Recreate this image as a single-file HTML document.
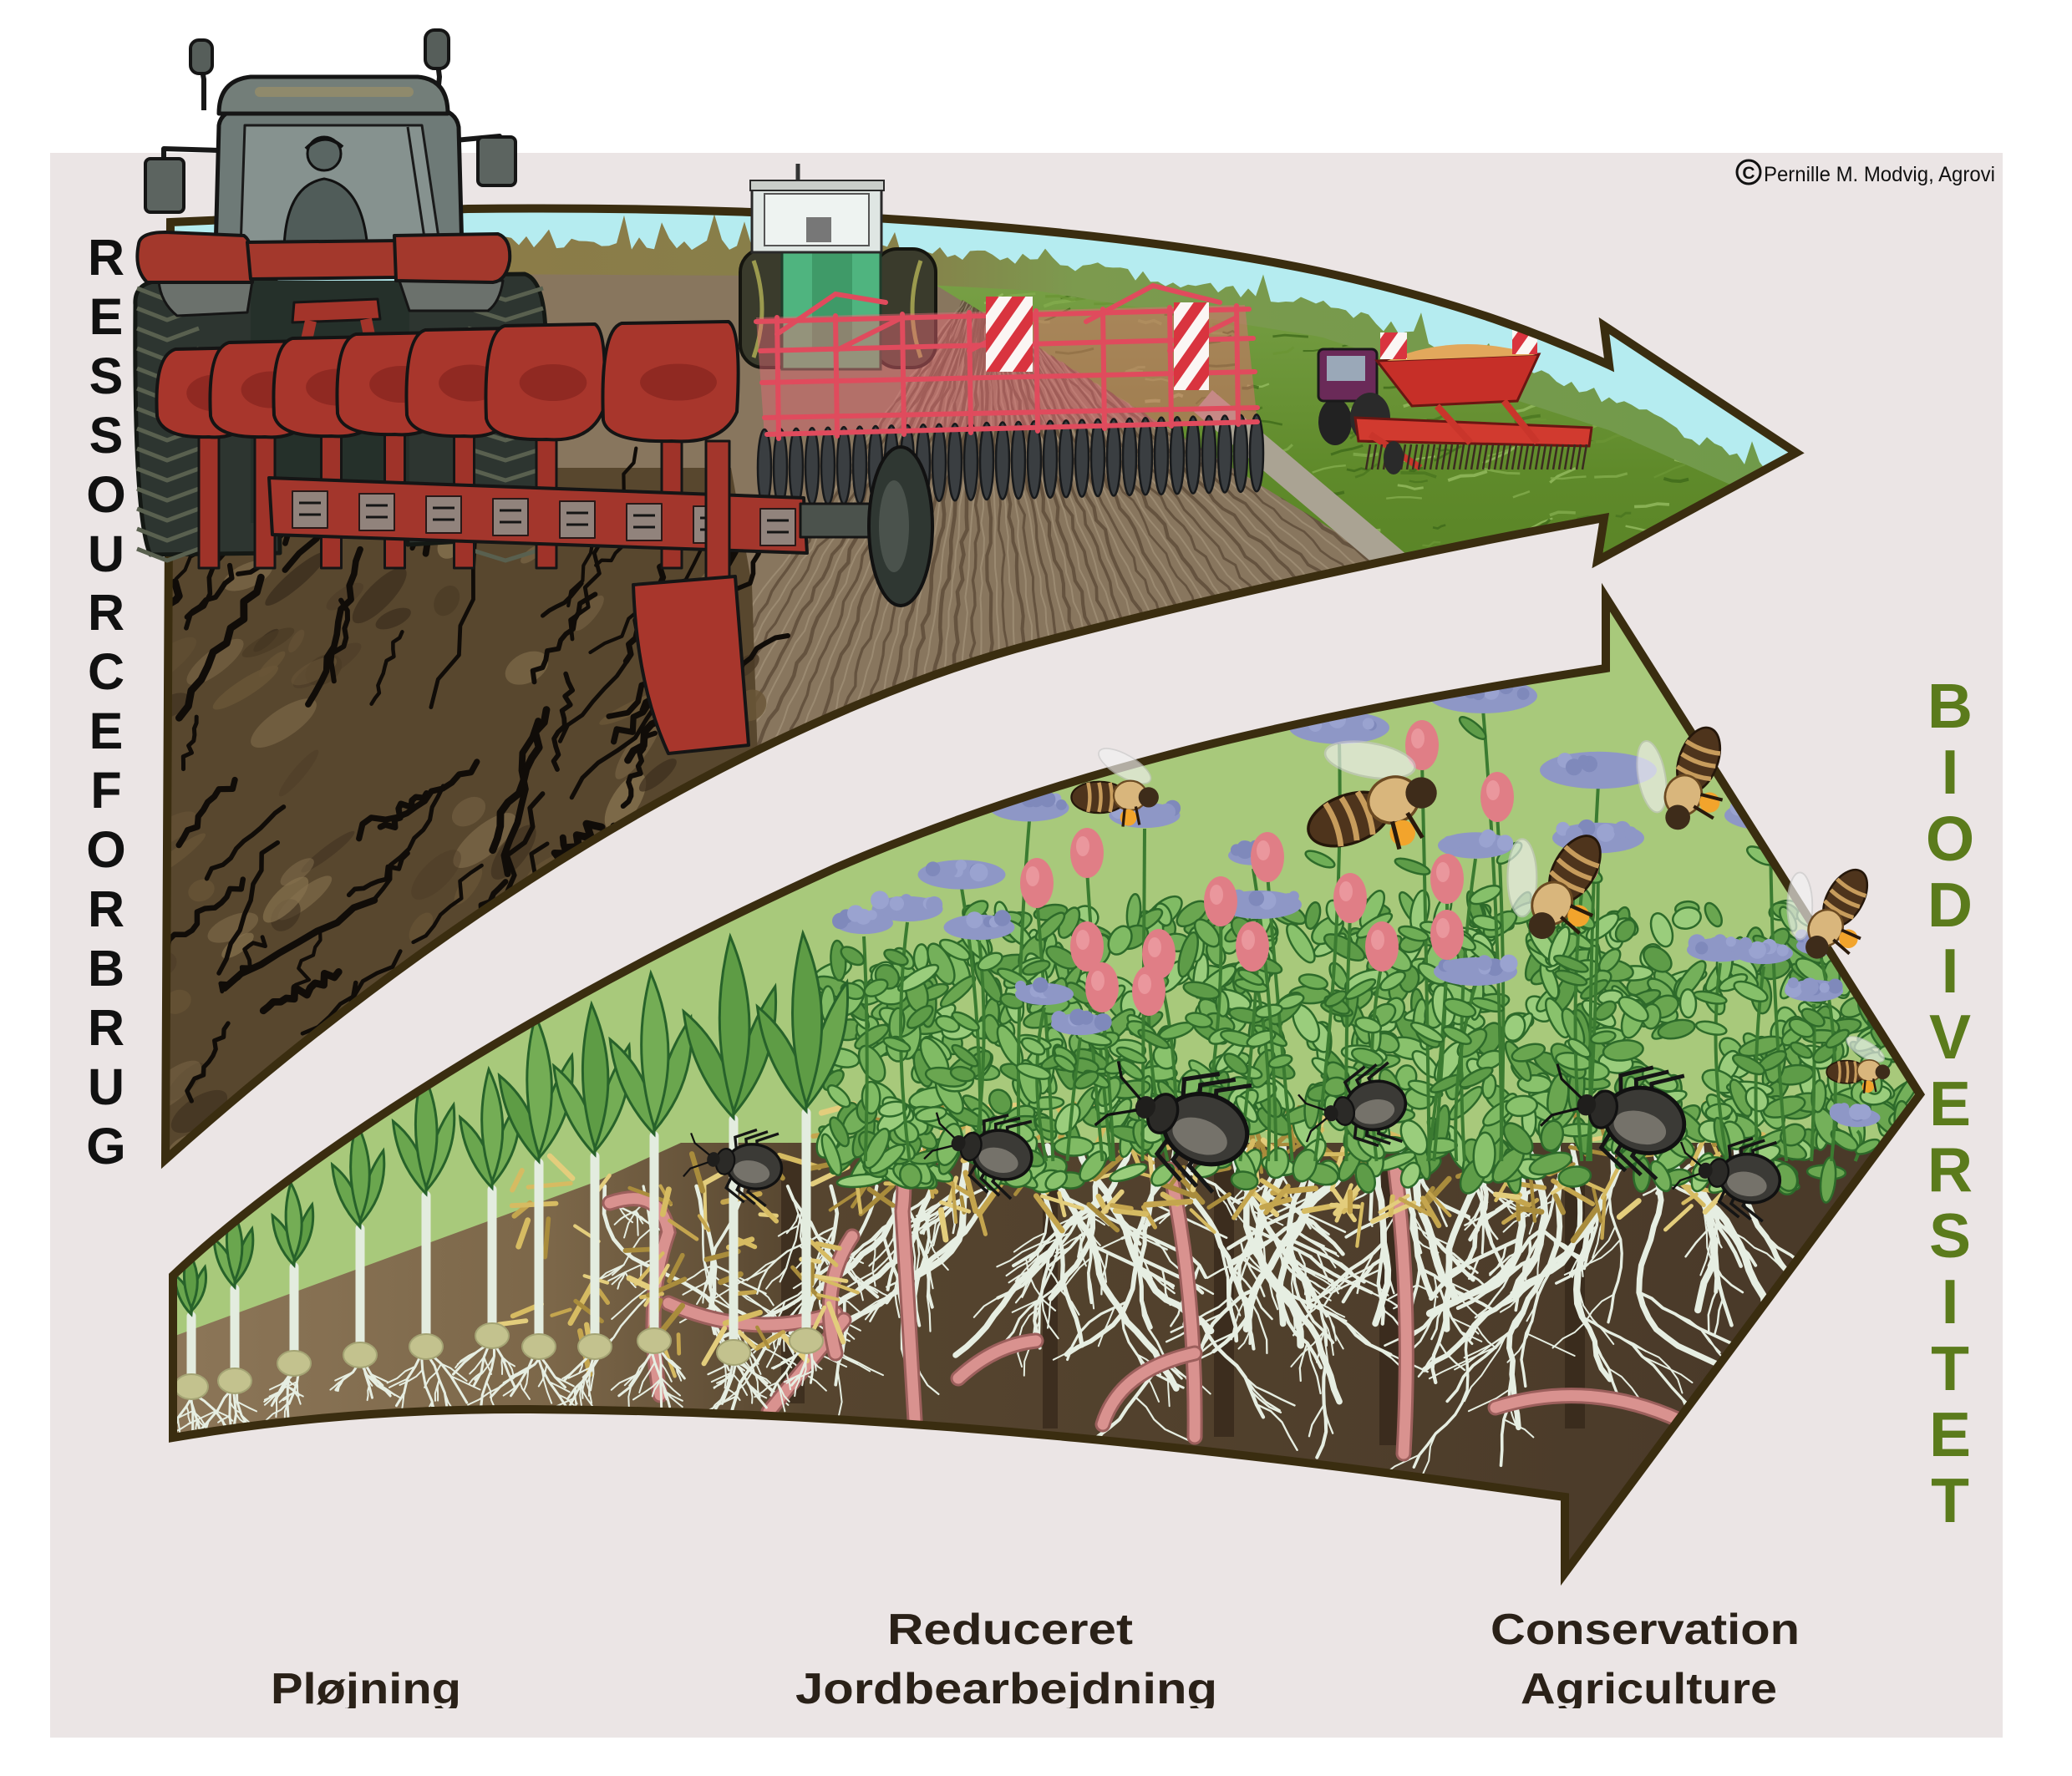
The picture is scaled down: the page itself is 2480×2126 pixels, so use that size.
<!DOCTYPE html>
<html><head><meta charset="utf-8"><title>Ressourceforbrug og Biodiversitet</title>
<style>html,body{margin:0;padding:0;background:#fff;width:2480px;height:2126px;overflow:hidden}svg{display:block}</style></head>
<body>
<svg id="s" xmlns="http://www.w3.org/2000/svg" width="2480" height="2126" viewBox="0 0 2480 2126">
<defs>
 <clipPath id="cTop"><path d="M204,266 L560,250 C900,246 1300,266 1580,325 C1750,362 1850,402 1926,437 L1920,390 L2150,542 L1912,671 L1920,620 C1700,660 1450,715 1240,770 C1000,833 620,1010 198,1388 Z"/></clipPath>
 <clipPath id="cBot"><path d="M207,1527 C330,1410 600,1220 1000,1039 C1300,910 1600,850 1922,800 L1922,715 L2298,1310 L1873,1883 L1873,1792 C1500,1740 1100,1690 633,1687 C450,1686 300,1705 207,1721 Z"/></clipPath>
 <clipPath id="cBF"><path d="M540,300 L1110,333 L1650,668 L1720,1100 L540,1100 Z"/></clipPath>
 <clipPath id="cLab"><rect x="0" y="1800" width="2480" height="245"/></clipPath>
 <linearGradient id="gGreen" x1="0" y1="330" x2="0" y2="800" gradientUnits="userSpaceOnUse"><stop offset="0" stop-color="#78a046"/><stop offset="0.5" stop-color="#5f8a2a"/><stop offset="1" stop-color="#557f24"/></linearGradient>
 <linearGradient id="gTree" x1="540" y1="0" x2="2200" y2="0" gradientUnits="userSpaceOnUse"><stop offset="0" stop-color="#8c7b48"/><stop offset="0.33" stop-color="#86804a"/><stop offset="0.45" stop-color="#7c9a4e"/><stop offset="1" stop-color="#6f9a4a"/></linearGradient>
 <linearGradient id="gSoil" x1="207" y1="0" x2="2100" y2="0" gradientUnits="userSpaceOnUse"><stop offset="0" stop-color="#8c7658"/><stop offset="0.24" stop-color="#7c6749"/><stop offset="0.4" stop-color="#56452f"/><stop offset="1" stop-color="#4a3a29"/></linearGradient>
 <pattern id="pStr" patternUnits="userSpaceOnUse" width="26" height="26" patternTransform="rotate(35)"><rect width="26" height="26" fill="#fbf6f4"/><rect width="13" height="26" fill="#d9343f"/></pattern>
</defs>

<rect width="2480" height="2126" fill="#ffffff"/>
<rect x="60" y="183" width="2337" height="1897" fill="#ebe5e5"/>

<!-- TOP ARROW CONTENT -->
<g clip-path="url(#cTop)">
 <rect x="150" y="200" width="2050" height="1250" fill="#b5ecf0"/>
 <path d="M1000,321 L1240,340 L1580,395 L1926,507 L2200,620 L2200,1100 L1700,1100 Z" fill="url(#gGreen)"/>
 <g id="gtex"></g>
 <path d="M540,321 L1110,335 L1650,668 L1720,1100 L540,1100 Z" fill="#88765e"/>
 <g id="furrow" clip-path="url(#cBF)"></g>
 <path d="M1440,480 L1700,700" stroke="#aaa393" stroke-width="34" fill="none"/>
 <g id="trees"></g>
 <path d="M190,560 L875,560 L900,700 L910,1000 L190,1400 Z" fill="#58472e"/>
 <g id="psoil"></g>
 <g id="seeder">
  <ellipse cx="1598" cy="505" rx="20" ry="28" fill="#222"/>
  <rect x="1578" y="418" width="70" height="62" rx="6" fill="#6a2a58" stroke="#1a1a1a" stroke-width="3"/>
  <rect x="1588" y="426" width="46" height="30" fill="#9aa8b8"/>
  <ellipse cx="1640" cy="500" rx="24" ry="30" fill="#2a2a2a"/>
  <path d="M1648,432 L1842,424 L1816,480 L1690,486 Z" fill="#c62f28" stroke="#6a1612" stroke-width="3"/>
  <path d="M1660,432 Q1745,396 1838,425 Z" fill="#e2a85c"/>
  <path d="M1622,500 L1905,512 L1902,534 L1626,528 Z" fill="#d13a2f" stroke="#6a1612" stroke-width="3"/>
  <path d="M1640,520 L1700,560 M1720,486 L1760,530 M1800,480 L1840,530" stroke="#c9352b" stroke-width="8" fill="none"/>
  <g id="teeth"></g>
  <rect x="1652" y="398" width="32" height="32" fill="url(#pStr)"/>
  <rect x="1810" y="392" width="30" height="32" fill="url(#pStr)"/>
  <ellipse cx="1668" cy="548" rx="12" ry="20" fill="#2a2a2a"/>
 </g>
</g>
<path d="M204,266 L560,250 C900,246 1300,266 1580,325 C1750,362 1850,402 1926,437 L1920,390 L2150,542 L1912,671 L1920,620 C1700,660 1450,715 1240,770 C1000,833 620,1010 198,1388 Z" fill="none" stroke="#3a2d10" stroke-width="10"/>

<!-- green tractor -->
<g id="greenTractor">
 <path d="M955,222 L955,196" stroke="#333" stroke-width="5"/>
 <rect x="886" y="298" width="72" height="142" rx="28" fill="#3a3b2c" stroke="#15150f" stroke-width="4"/>
 <rect x="1046" y="298" width="74" height="142" rx="28" fill="#3a3b2c" stroke="#15150f" stroke-width="4"/>
 <path d="M902,312 Q922,370 902,428 M1102,312 Q1082,370 1102,428" stroke="#9b9a4e" stroke-width="5" fill="none"/>
 <rect x="936" y="292" width="118" height="150" fill="#4fb47f" stroke="#1f3d2b" stroke-width="3"/>
 <rect x="972" y="300" width="48" height="120" fill="#3f9a68"/>
 <rect x="900" y="222" width="155" height="80" fill="#dfe6e3" stroke="#2a2a2a" stroke-width="3"/>
 <rect x="898" y="216" width="160" height="12" fill="#c9cdc9" stroke="#2a2a2a" stroke-width="2"/>
 <rect x="915" y="232" width="125" height="62" fill="#eef3f1" stroke="#555" stroke-width="2"/>
 <rect x="965" y="260" width="30" height="30" fill="#777"/>
</g>

<!-- harrow -->
<g id="harrow" stroke-linecap="round" fill="none">
 <path d="M905,380 L1490,365 L1505,505 L915,522 Z" fill="#e86a78" opacity="0.45" stroke="none"/>
 <g id="disks"></g>
 <g stroke="#e04b5d" stroke-width="6">
  <path d="M905,385 L1495,370 M910,420 L1500,405 M912,458 L1502,445 M915,500 L1505,488 M918,520 L1505,505"/>
  <path d="M930,380 L932,525 M1000,378 L1002,522 M1080,376 L1082,520 M1160,374 L1162,518 M1240,372 L1242,516 M1320,370 L1322,513 M1400,368 L1402,510 M1480,366 L1482,508"/>
  <path d="M930,400 L1000,352 L1060,362 M1300,385 L1380,342 L1460,362 M1000,420 L1080,380 M1160,420 L1240,380 M1400,420 L1480,380"/>
 </g>
 <rect x="1180" y="355" width="56" height="90" fill="url(#pStr)" stroke="none"/>
 <rect x="1405" y="362" width="42" height="105" fill="url(#pStr)" stroke="none"/>
</g>

<!-- big tractor with plough -->
<g id="bigTractor" stroke-linejoin="round">
 <path d="M244,132 L244,95 L238,62" fill="none" stroke="#181818" stroke-width="6"/>
 <rect x="228" y="48" width="26" height="40" rx="10" fill="#565e5a" stroke="#151515" stroke-width="4"/>
 <path d="M522,132 L526,92 L522,60" fill="none" stroke="#181818" stroke-width="6"/>
 <rect x="509" y="36" width="28" height="46" rx="11" fill="#565e5a" stroke="#151515" stroke-width="4"/>
 <path d="M262,180 L196,178 L196,192" fill="none" stroke="#181818" stroke-width="6"/>
 <rect x="174" y="190" width="46" height="64" rx="6" fill="#5c6460" stroke="#151515" stroke-width="4"/>
 <path d="M545,168 L598,163 L598,170" fill="none" stroke="#181818" stroke-width="6"/>
 <rect x="572" y="164" width="45" height="58" rx="6" fill="#5c6460" stroke="#151515" stroke-width="4"/>
 <path d="M162,365 Q160,338 192,336 L330,336 L335,662 L180,664 Q160,620 162,365 Z" fill="#2d3530" stroke="#141814" stroke-width="5"/>
 <path d="M478,330 L628,328 Q655,336 653,420 L650,642 L488,652 Z" fill="#2d3530" stroke="#141814" stroke-width="5"/>
 <rect x="300" y="336" width="190" height="290" fill="#25302a"/>
 <g id="treads"></g>
 <path d="M258,302 L262,150 Q265,132 290,130 L522,130 Q546,133 549,152 L553,302 Z" fill="#6e7a77" stroke="#151515" stroke-width="5"/>
 <path d="M288,298 L293,150 L505,150 L527,298 Z" fill="#86928f" stroke="#1a1a1a" stroke-width="3"/>
 <path d="M340,298 Q342,222 388,214 Q434,222 440,298 Z" fill="#505c59" stroke="#111" stroke-width="3"/>
 <circle cx="388" cy="184" r="20" fill="#5a6663" stroke="#111" stroke-width="3"/>
 <path d="M366,178 Q388,156 410,176" fill="none" stroke="#111" stroke-width="4"/>
 <path d="M488,152 L510,298" stroke="#1a1a1a" stroke-width="3"/>
 <path d="M262,136 Q262,96 300,92 L500,92 Q536,95 536,136 Z" fill="#737e79" stroke="#151515" stroke-width="5"/>
 <rect x="305" y="104" width="190" height="12" rx="6" fill="#8f8a6c"/>
 <path d="M190,336 L302,336 L296,374 L212,378 Q192,362 190,336 Z" fill="#6b716c" stroke="#151515" stroke-width="3"/>
 <path d="M478,336 L602,336 Q598,362 584,372 L490,372 Z" fill="#6b716c" stroke="#151515" stroke-width="3"/>
 <path d="M166,292 Q168,278 198,278 L292,282 Q306,292 302,338 L176,338 Q160,322 166,292 Z" fill="#a3382c" stroke="#151515" stroke-width="4"/>
 <path d="M296,290 L478,288 L476,332 L300,334 Z" fill="#a3382c" stroke="#151515" stroke-width="4"/>
 <path d="M472,282 L596,280 Q612,286 610,312 Q606,336 590,338 L474,336 Z" fill="#a3382c" stroke="#151515" stroke-width="4"/>
 <path d="M352,362 L452,358 L455,382 L350,386 Z" fill="#a3342a" stroke="#151515" stroke-width="3"/>
 <path d="M372,384 L362,430 M438,382 L448,430" stroke="#a3342a" stroke-width="14"/>
 <g id="shares"></g>
 <path d="M322,572 L962,596 L966,662 L326,640 Z" fill="#a3362c" stroke="#151515" stroke-width="4"/>
 <g id="rings"></g>
 <rect x="958" y="603" width="95" height="40" fill="#4b524c" stroke="#151515" stroke-width="3"/>
 <ellipse cx="1078" cy="630" rx="38" ry="95" fill="#2f3732" stroke="#111" stroke-width="4"/>
 <ellipse cx="1070" cy="630" rx="18" ry="55" fill="#4a524c"/>
 <rect x="845" y="528" width="28" height="170" fill="#a3362c" stroke="#151515" stroke-width="3"/>
 <path d="M758,700 L880,690 L896,892 L800,902 Q762,820 758,700 Z" fill="#a8362c" stroke="#151515" stroke-width="4"/>
</g>

<!-- BOTTOM ARROW CONTENT -->
<g clip-path="url(#cBot)">
 <rect x="190" y="690" width="2130" height="1220" fill="#a8c97b"/>
 <path d="M207,1600 L712,1415 L815,1368 L2320,1368 L2320,1900 L207,1900 Z" fill="url(#gSoil)"/>
 <g fill="#2e2216" opacity="0.6">
  <rect x="935" y="1390" width="28" height="290"/>
  <rect x="1248" y="1400" width="18" height="310"/>
  <rect x="1453" y="1400" width="24" height="320"/>
  <rect x="1651" y="1400" width="32" height="330"/>
  <rect x="1873" y="1400" width="24" height="310"/>
 </g>
 <g id="roots"></g>
 <g id="worms"></g>
 <g id="straw"></g>
 <g id="leaves"></g>
 <g id="stems"></g>
 <g id="flowers"></g>
 <g id="seedl"></g>
 <g id="beetles"></g>
</g>
<path d="M207,1527 C330,1410 600,1220 1000,1039 C1300,910 1600,850 1922,800 L1922,715 L2298,1310 L1873,1883 L1873,1792 C1500,1740 1100,1690 633,1687 C450,1686 300,1705 207,1721 Z" fill="none" stroke="#3a2d10" stroke-width="10"/>
<g id="bees"></g>

<!-- TEXT -->
<g font-family="Liberation Sans, Arial, sans-serif" font-weight="bold" font-size="61" fill="#111" text-anchor="middle">
 <text x="127" y="329">R</text><text x="127" y="400">E</text><text x="127" y="471">S</text><text x="127" y="542">S</text>
 <text x="127" y="613">O</text><text x="127" y="684">U</text><text x="127" y="754">R</text><text x="127" y="825">C</text>
 <text x="127" y="896">E</text><text x="127" y="967">F</text><text x="127" y="1038">O</text><text x="127" y="1109">R</text>
 <text x="127" y="1180">B</text><text x="127" y="1251">R</text><text x="127" y="1322">U</text><text x="127" y="1393">G</text>
</g>
<g font-family="Liberation Sans, Arial, sans-serif" font-weight="bold" font-size="75" fill="#5b7b1c" text-anchor="middle">
 <text x="2334" y="871">B</text><text x="2334" y="950">I</text><text x="2334" y="1030">O</text><text x="2334" y="1109">D</text>
 <text x="2334" y="1188">I</text><text x="2334" y="1267">V</text><text x="2334" y="1347">E</text><text x="2334" y="1426">R</text>
 <text x="2334" y="1505">S</text><text x="2334" y="1584">I</text><text x="2334" y="1664">T</text><text x="2334" y="1743">E</text>
 <text x="2334" y="1822">T</text>
</g>
<circle cx="2093" cy="206" r="14" fill="none" stroke="#111" stroke-width="3"/>
<text x="2093" y="214" font-family="Liberation Sans, Arial, sans-serif" font-weight="bold" font-size="21" fill="#111" text-anchor="middle">C</text>
<text x="2111" y="217" font-family="Liberation Sans, Arial, sans-serif" font-size="25" fill="#111" textLength="277" lengthAdjust="spacingAndGlyphs">Pernille M. Modvig, Agrovi</text>

<g clip-path="url(#cLab)" font-family="Liberation Sans, Arial, sans-serif" font-weight="bold" font-size="52" fill="#2a2118">
 <text x="324" y="2039" textLength="228" lengthAdjust="spacingAndGlyphs">Pløjning</text>
 <text x="1062" y="1968" textLength="294" lengthAdjust="spacingAndGlyphs">Reduceret</text>
 <text x="952" y="2039" textLength="505" lengthAdjust="spacingAndGlyphs">Jordbearbejdning</text>
 <text x="1784" y="1968" textLength="370" lengthAdjust="spacingAndGlyphs">Conservation</text>
 <text x="1820" y="2039" textLength="307" lengthAdjust="spacingAndGlyphs">Agriculture</text>
</g>
</svg>
<script>
(function(){
var NS="http://www.w3.org/2000/svg";
var seed=12345;
function rnd(){seed=(seed*16807)%2147483647;return (seed-1)/2147483646;}
function R(a,b){return a+(b-a)*rnd();}
function pick(a){return a[Math.floor(rnd()*a.length)];}
function E(p,tag,at){var e=document.createElementNS(NS,tag);for(var k in at){e.setAttribute(k,at[k]);}p.appendChild(e);return e;}
function G(id){return document.getElementById(id);}
function f(n){return (+n).toFixed(1);}
function wig(x,y,len,ang,amp,n){var p=[];var a=ang*Math.PI/180,dx=Math.cos(a),dy=Math.sin(a);for(var i=0;i<=n;i++){var t=len*i/n,o=R(-amp,amp);p.push(f(x+dx*t-dy*o)+','+f(y+dy*t+dx*o));}return p.join(' ');}
var TE=[[500,252],[560,250],[900,252],[1240,270],[1580,325],[1926,437],[2200,560]];
function te(x){for(var i=0;i<TE.length-1;i++){if(x<=TE[i+1][0]){var t=(x-TE[i][0])/(TE[i+1][0]-TE[i][0]);return TE[i][1]+t*(TE[i+1][1]-TE[i][1]);}}return 560;}

/* green field texture */
var gt=G('gtex');
for(var i=0;i<450;i++){var y=R(330,900),x=R(1100,2160);if(x<1110+(y-335)*1.62+10)continue;if(y<te(x)+60)continue;
E(gt,'polyline',{points:wig(x,y,R(15,50),R(-30,10),2,3),fill:'none',stroke:pick(['#4a761f','#83ac4e','#3e6a1a','#95bb60','#6a9534']),'stroke-width':f(R(2,4)),opacity:'0.8'});}
/* furrows */
var fu=G('furrow');
for(var a=14;a<=125;a+=2.6){E(fu,'polyline',{points:wig(1180,320,900,a,3,60),fill:'none',stroke:'#5a4836','stroke-width':f(R(2.5,4.5)),opacity:'0.75'});
E(fu,'polyline',{points:wig(1180,320,900,a+1.3,2,50),fill:'none',stroke:'#a8987e','stroke-width':'2',opacity:'0.6'});}
/* treeline */
var tl=G('trees');var tp=[],bt=[];
for(var x=540;x<=2200;x+=9){var b=R(0,16);if(rnd()<0.06)b+=R(15,35);tp.push(f(x)+','+f(te(x)+48-b));bt.push(f(x)+','+f(te(x)+78));}
E(tl,'polygon',{points:tp.concat(bt.reverse()).join(' '),fill:'url(#gTree)'});
/* ploughed soil */
var ps=G('psoil');
for(var i=0;i<90;i++){var cx=R(190,900),cy=R(600,1400);E(ps,'ellipse',{cx:f(cx),cy:f(cy),rx:f(R(15,50)),ry:f(R(6,18)),fill:pick(['#7b6747','#6a5637','#3c2e1e','#86724f','#4a3a25']),opacity:f(R(0.4,0.85)),transform:'rotate('+f(R(-60,-20))+','+f(cx)+','+f(cy)+')'});}
for(var i=0;i<75;i++){E(ps,'polyline',{points:wig(R(180,890),R(620,1420),R(60,220),R(-80,-30),R(4,12),Math.floor(R(6,14))),fill:'none',stroke:'#100c08','stroke-width':f(R(4,9)),'stroke-linecap':'round','stroke-linejoin':'round'});}
/* seeder teeth */
var st=G('teeth');for(var x=1640;x<=1900;x+=7){E(st,'line',{x1:x,y1:'532',x2:x-5,y2:'562',stroke:'#3b2b20','stroke-width':'2.5'});}
/* disks */
var dk=G('disks');
for(var x=915;x<=1505;x+=19){var cy=560-(x-915)*0.03;E(dk,'ellipse',{cx:f(x),cy:f(cy),rx:'8',ry:'46',fill:'#3a3e41',stroke:'#17191b','stroke-width':'2.5'});}
/* treads */
var tr=G('treads');
for(var y=345;y<660;y+=24){E(tr,'polyline',{points:'164,'+y+' 200,'+(y+14)+' 238,'+y,fill:'none',stroke:'#59604f','stroke-width':'5'});E(tr,'polyline',{points:'560,'+y+' 605,'+(y+14)+' 650,'+y,fill:'none',stroke:'#59604f','stroke-width':'5'});}
/* plough shares and legs */
var sh=G('shares');
var shares=[[188,312,418,523],[252,382,410,523],[328,465,405,522],[404,541,400,520],[487,624,395,522],[582,726,390,526],[722,886,387,528]];
shares.forEach(function(s){var cx=(s[0]+s[1])/2;E(sh,'rect',{x:cx-12,y:s[3]-10,width:'24',height:690-s[3],fill:'#9f3329',stroke:'#151515','stroke-width':'3'});});
shares.forEach(function(s){var x1=s[0],x2=s[1],yt=s[2],yb=s[3];
E(sh,'path',{d:'M'+x1+','+(yb-25)+' Q'+(x1-4)+','+(yt+8)+' '+(x1+22)+','+yt+' L'+(x2-14)+','+(yt-2)+' Q'+(x2+2)+','+(yt+8)+' '+(x2-4)+','+(yb-35)+' Q'+(x2-20)+','+(yb+4)+' '+((x1+x2)/2)+','+yb+' Q'+(x1+6)+','+(yb+2)+' '+x1+','+(yb-25)+' Z',fill:'#a8362c',stroke:'#141414','stroke-width':'4'});
E(sh,'ellipse',{cx:(x1+x2)/2+8,cy:(yt+yb)/2,rx:(x2-x1)*0.28,ry:'22',fill:'#86231e',opacity:'0.7'});});
var rg=G('rings');
for(var i=0;i<8;i++){var x=350+i*80,y=588+i*3;E(rg,'rect',{x:x,y:y,width:'42',height:'44',fill:'#8e918b',opacity:'0.85',stroke:'#151515','stroke-width':'2'});E(rg,'path',{d:'M'+(x+8)+','+(y+14)+' L'+(x+34)+','+(y+14)+' M'+(x+8)+','+(y+28)+' L'+(x+34)+','+(y+28),stroke:'#151515','stroke-width':'3',fill:'none'});}

/* BOTTOM: roots */
var rt=G('roots');
function root(g,x,y,len,ang,w,d){var n=Math.max(3,Math.floor(len/16));var pts=[[x,y]],a=ang;for(var i=0;i<n;i++){a+=R(-20,20);if(a<25)a=25;if(a>155)a=155;var r=a*Math.PI/180;x+=Math.cos(r)*len/n;y+=Math.sin(r)*len/n;pts.push([x,y]);}
E(g,'polyline',{points:pts.map(function(p){return f(p[0])+','+f(p[1]);}).join(' '),fill:'none',stroke:'#e6eee2','stroke-width':f(w),'stroke-linecap':'round','stroke-linejoin':'round'});
if(d>0){var nb=2+Math.floor(rnd()*3);for(var j=0;j<nb;j++){var p=pts[1+Math.floor(rnd()*(pts.length-2))];root(g,p[0],p[1],len*R(0.3,0.6),a+R(-70,70),Math.max(2,w*0.55),d-1);}}}
for(var x=1110;x<=2080;x+=30){root(rt,x+R(-10,10),1372,R(180,360),90+R(-15,15),R(5,9),2);}
for(var x=720;x<=1100;x+=55){root(rt,x+R(-10,10),1420,R(120,260),90+R(-20,20),R(3,5),2);}
/* worms */
var wm=G('worms');
var worms=['M730,1440 Q790,1420 800,1475 Q770,1560 790,1670','M800,1560 Q900,1605 1000,1572','M1060,1360 Q1088,1385 1080,1450 L1095,1700','M920,1690 L1010,1580','M1147,1650 Q1190,1610 1240,1605','M1400,1400 Q1432,1550 1430,1720','M1670,1400 Q1690,1560 1680,1740','M1790,1685 Q1900,1650 2010,1700','M1320,1705 Q1340,1640 1430,1620','M1020,1480 Q980,1540 1000,1620'];
worms.forEach(function(d){E(wm,'path',{d:d,fill:'none',stroke:'#9c5f5c','stroke-width':'19','stroke-linecap':'round'});E(wm,'path',{d:d,fill:'none',stroke:'#d9928f','stroke-width':'13','stroke-linecap':'round'});});
/* straw */
var sw=G('straw');
for(var i=0;i<260;i++){var x=R(620,2080),y=(x<1000)?R(1370,1600):R(1320,1450);var a=R(0,180)*Math.PI/180,l=R(18,55);E(sw,'line',{x1:f(x),y1:f(y),x2:f(x+Math.cos(a)*l),y2:f(y+Math.sin(a)*l),stroke:pick(['#d6bb62','#c4a54e','#e3cd7c','#a98c3c']),'stroke-width':f(R(4,7)),'stroke-linecap':'round'});}
/* dense foliage */
var lv=G('leaves');
for(var i=0;i<850;i++){var x=R(990,2290);var yt=x<1150?1140:1085;var y=R(yt,1415);E(lv,'ellipse',{cx:f(x),cy:f(y),rx:f(R(14,28)),ry:f(R(7,13)),fill:pick(['#74b05a','#5e9c48','#89c26c','#9acd7c','#6aa650','#80bb64']),stroke:'#2d6a2a','stroke-width':'2.5',transform:'rotate('+f(R(0,180))+','+f(x)+','+f(y)+')'});}
/* flowers */
var pink=[[1241,1057],[1301,1021],[1301,1133],[1319,1182],[1375,1186],[1387,1142],[1461,1079],[1517,1026],[1499,1133],[1616,1075],[1654,1133],[1702,892],[1732,1052],[1732,1119],[1792,954],[1895,1030]];
var blue=[[1775,829,130],[1603,867,120],[1232,963,95],[1370,972,85],[1151,1043,105],[1086,1084,85],[1034,1101,70],[1172,1106,85],[1913,918,140],[2119,972,110],[1766,1008,90],[1913,999,110],[1508,1079,100],[2059,1133,80],[2111,1137,70],[1766,1159,100],[2171,1182,70],[1250,1186,70],[1293,1222,70],[2223,1334,55],[2180,1128,60],[1500,1020,60]];
var sm=G('stems');
pink.concat(blue).forEach(function(p){var x0=p[0]+R(-30,30);E(sm,'path',{d:'M'+f(x0)+',1390 Q'+f((x0+p[0])/2+R(-20,20))+','+f((1390+p[1])/2)+' '+p[0]+','+(p[1]+20),fill:'none',stroke:'#3b7b31','stroke-width':'4'});
for(var k=0;k<3;k++){var ly=R(p[1]+40,1300);var lx=x0+(p[0]-x0)*(1390-ly)/(1390-p[1]);var ox=lx+(k%2?14:-14);E(sm,'ellipse',{cx:f(ox),cy:f(ly),rx:f(R(14,22)),ry:f(R(6,9)),fill:pick(['#6fae56','#5e9c48','#86c06a']),stroke:'#2e6b2a','stroke-width':'2.5',transform:'rotate('+f(k%2?R(-40,-10):R(10,40))+','+f(ox)+','+f(ly)+')'});}});
var fl=G('flowers');
blue.forEach(function(b){var x=b[0],y=b[1],w=b[2];E(fl,'ellipse',{cx:x,cy:y+4,rx:f(w/2),ry:f(w*0.13+4),fill:'#8e97c6'});for(var k=0;k<6;k++){E(fl,'circle',{cx:f(x+R(-w/2.4,w/2.4)),cy:f(y+R(-8,2)),r:f(R(6,11)),fill:pick(['#8e97c6','#9aa3d0','#7f89bb'])});}});
pink.forEach(function(p){E(fl,'ellipse',{cx:p[0],cy:p[1],rx:'20',ry:'30',fill:'#e07e86'});E(fl,'ellipse',{cx:p[0]-5,cy:p[1]-8,rx:'8',ry:'12',fill:'#ec9ea3',opacity:'0.8'});});
/* seedlings */
var sd=G('seedl');
function leaf(g,bx,by,tx,ty,w){var mx=(bx+tx)/2,my=(by+ty)/2,dx=tx-bx,dy=ty-by,L=Math.sqrt(dx*dx+dy*dy),nx=-dy/L,ny=dx/L;
E(g,'path',{d:'M'+f(bx)+','+f(by)+' Q'+f(mx+nx*w)+','+f(my+ny*w)+' '+f(tx)+','+f(ty)+' Q'+f(mx-nx*w*0.7)+','+f(my-ny*w*0.7)+' '+f(bx)+','+f(by)+' Z',fill:pick(['#6aa64e','#5e9c45','#74ad55']),stroke:'#27622a','stroke-width':'3'});}
var seeds=[[229,1497,1660],[281,1446,1653],[352,1416,1632],[431,1344,1622],[510,1283,1612],[589,1280,1599],[645,1216,1612],[712,1202,1612],[783,1165,1605],[878,1121,1619],[965,1117,1605]];
seeds.forEach(function(s){var x=s[0],top=s[1],bl=s[2],h=bl-top,sb=top+h*0.42,w=h*0.07+7;
for(var k=0;k<4;k++){root(sd,x+R(-6,6),bl+8,R(40,85),R(35,145),3,1);}
E(sd,'line',{x1:x,y1:bl,x2:x,y2:f(sb+10),stroke:'#e3ecdf','stroke-width':'11','stroke-linecap':'round'});
leaf(sd,x,sb+8,x-h*0.12,top+h*0.18,w*0.8);leaf(sd,x,sb+4,x+h*0.1,top+h*0.12,w*0.8);leaf(sd,x,sb,x-4,top,w);
E(sd,'ellipse',{cx:x,cy:bl,rx:'20',ry:'15',fill:'#c3c28e',stroke:'#a4a474','stroke-width':'2'});});
/* beetles */
var be=G('beetles');
function beetle(x,y,s,rot){var t=E(be,'g',{transform:'translate('+x+','+y+') rotate('+rot+') scale('+s+')'});
for(var i=0;i<3;i++){var yy=-10+i*12;E(t,'polyline',{points:'0,'+yy+' -28,'+(yy-8)+' -40,'+(yy+14),fill:'none',stroke:'#151515','stroke-width':'3'});E(t,'polyline',{points:'0,'+yy+' 28,'+(yy-8)+' 40,'+(yy+14),fill:'none',stroke:'#151515','stroke-width':'3'});}
E(t,'ellipse',{cx:'0',cy:'8',rx:'24',ry:'30',fill:'#3b3a36',stroke:'#111','stroke-width':'3'});
E(t,'ellipse',{cx:'-6',cy:'6',rx:'12',ry:'20',fill:'#8e8a80',opacity:'0.7'});
E(t,'ellipse',{cx:'0',cy:'-24',rx:'14',ry:'10',fill:'#2b2a27',stroke:'#111','stroke-width':'2'});
E(t,'ellipse',{cx:'0',cy:'-37',rx:'8',ry:'7',fill:'#1f1e1c'});
E(t,'polyline',{points:'-4,-42 -14,-60 -24,-66',fill:'none',stroke:'#111','stroke-width':'2'});
E(t,'polyline',{points:'4,-42 14,-60 24,-66',fill:'none',stroke:'#111','stroke-width':'2'});}
[[894,1395,1.1,-80],[1190,1380,1.2,-75],[1430,1347,1.7,-70],[1637,1325,1.2,-100],[1956,1338,1.6,-75],[2085,1409,1.2,-80]].forEach(function(b){beetle(b[0],b[1],b[2],b[3]);});
/* bees */
var bz=G('bees');
function bee(x,y,s,rot,flip){var t=E(bz,'g',{transform:'translate('+x+','+y+') rotate('+rot+') scale('+(flip?-s:s)+','+s+')'});
E(t,'ellipse',{cx:'-2',cy:'-30',rx:'32',ry:'12',fill:'#f2f2f2',opacity:'0.65',stroke:'#c8c8c8','stroke-width':'1.5',transform:'rotate(-30,-2,-30)'});
E(t,'ellipse',{cx:'26',cy:'4',rx:'30',ry:'17',fill:'#4e341c',stroke:'#25170a','stroke-width':'2'});
[14,26,38].forEach(function(sx){E(t,'path',{d:'M'+sx+',-12 Q'+(sx-4)+',4 '+sx+',20',fill:'none',stroke:'#c79c5c','stroke-width':'4'});});
E(t,'ellipse',{cx:'-8',cy:'2',rx:'18',ry:'16',fill:'#d9b67c',stroke:'#6b4a22','stroke-width':'2'});
E(t,'circle',{cx:'-28',cy:'4',r:'11',fill:'#3e2c1a'});
E(t,'circle',{cx:'-6',cy:'26',r:'9',fill:'#f2a42c'});
E(t,'path',{d:'M-14,14 L-18,34 M-2,16 L0,36',stroke:'#2a1a0c','stroke-width':'3',fill:'none'});}
bee(1344,950,1.1,0,true);bee(1654,959,1.7,-20,true);bee(2016,941,1.35,-70,false);bee(1861,1070,1.45,-60,false);bee(2188,1101,1.25,-60,false);bee(2231,1280,0.8,0,true);
})();
</script>
</body></html>
